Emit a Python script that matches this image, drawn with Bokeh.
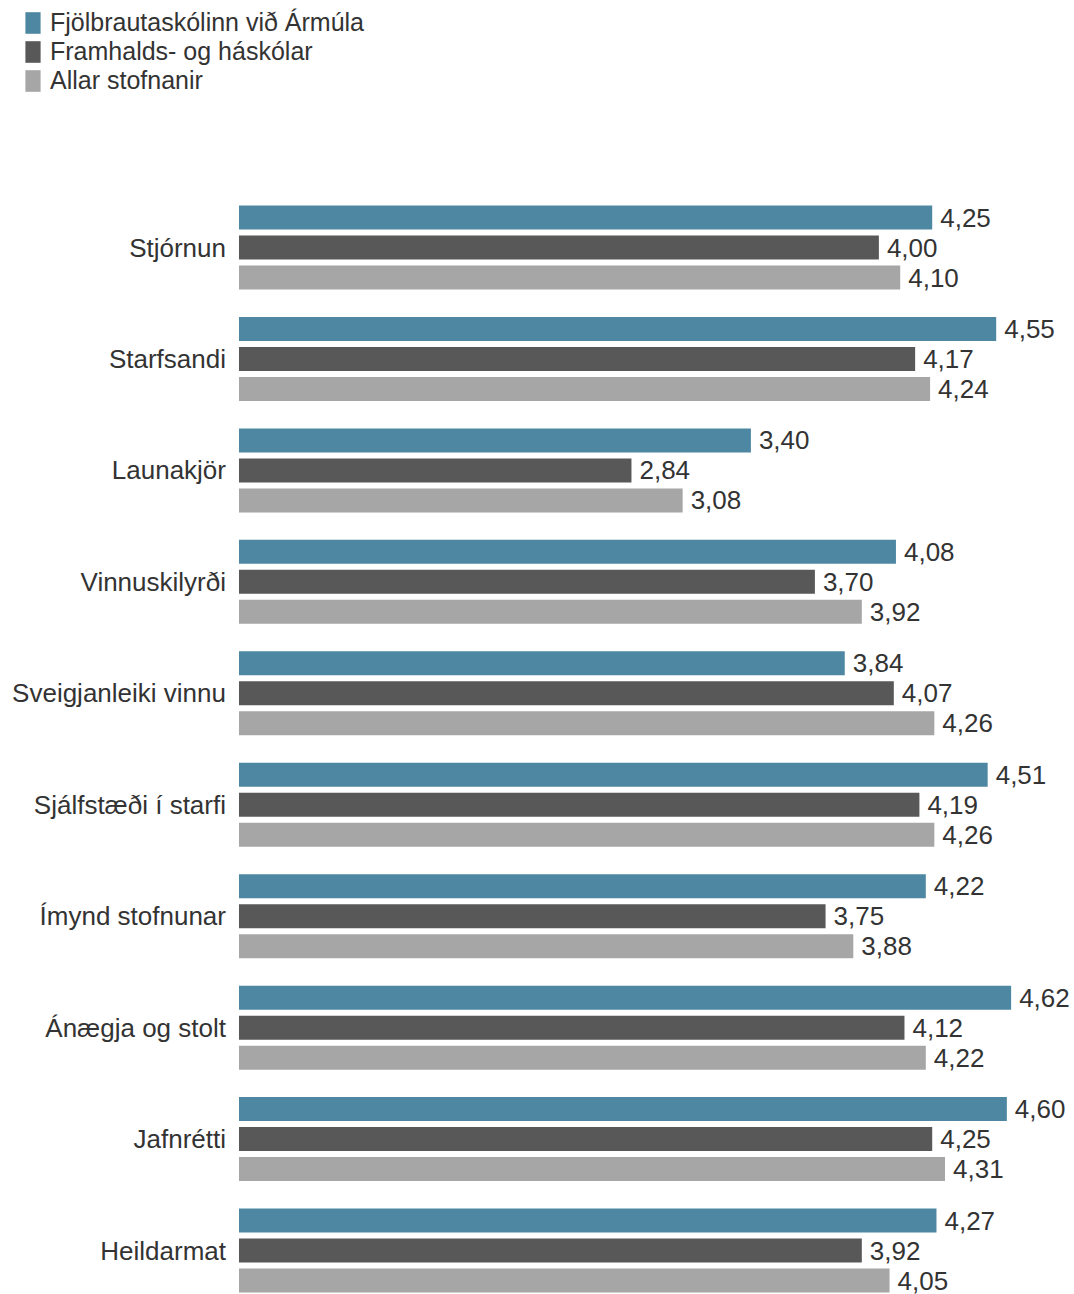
from bokeh.plotting import figure
from bokeh.models import ColumnDataSource, Range1d, Legend, LegendItem
from bokeh.core.properties import value
from bokeh.embed import file_html
from bokeh.resources import INLINE

categories = ["Stjórnun", "Starfsandi", "Launakjör", "Vinnuskilyrði",
              "Sveigjanleiki vinnu", "Sjálfstæði í starfi", "Ímynd stofnunar",
              "Ánægja og stolt", "Jafnrétti", "Heildarmat"]
fjolbraut = [4.25, 4.55, 3.40, 4.08, 3.84, 4.51, 4.22, 4.62, 4.60, 4.27]
framhalds = [4.00, 4.17, 2.84, 3.70, 4.07, 4.19, 3.75, 4.12, 4.25, 3.92]
allar = [4.10, 4.24, 3.08, 3.92, 4.26, 4.26, 3.88, 4.22, 4.31, 4.05]
series_names = ["Fjölbrautaskólinn við Ármúla", "Framhalds- og háskólar", "Allar stofnanir"]
series_values = [fjolbraut, framhalds, allar]
colors = ["#4E87A1", "#585858", "#A6A6A6"]
baseline = 1.0

FONT_NAME = "Liberation Sans"
FONT = value(FONT_NAME)
FSIZE = "26px"
TXT = "#333333"

GROUP_PX = 111.45
offsets = [30 / GROUP_PX, 0.0, -30 / GROUP_PX]
bar_h = 24 / GROUP_PX

W, H = 1074, 1294
p = figure(width=W, height=H,
           x_range=Range1d(-0.1181, 4.9171),
           y_range=Range1d(-9.3944, 2.2163),
           output_backend="svg", toolbar_location=None,
           x_axis_location=None, y_axis_location=None, min_border=0)
p.grid.visible = False
p.outline_line_color = None
p.background_fill_color = "white"

group_y = [-i for i in range(len(categories))]

renderers = []
for name, vals, off, col in zip(series_names, series_values, offsets, colors):
    src = ColumnDataSource(dict(
        y=[g + off for g in group_y],
        right=vals,
        left=[baseline] * len(vals),
        lab=[f"{v:.2f}".replace(".", ",") for v in vals],
    ))
    r = p.hbar(y="y", left="left", right="right", height=bar_h, source=src,
               fill_color=col, line_color=None)
    renderers.append(r)
    p.text(x="right", y="y", text="lab", source=src, x_offset=8,
           text_baseline="middle", text_align="left", text_font=FONT,
           text_font_size=FSIZE, text_color=TXT)

csrc = ColumnDataSource(dict(x=[baseline] * len(categories), y=group_y, t=categories))
p.text(x="x", y="y", text="t", source=csrc, x_offset=-13, text_align="right",
       text_baseline="middle", text_font=FONT, text_font_size=FSIZE, text_color=TXT)

legend = Legend(items=[LegendItem(label=n, renderers=[r]) for n, r in zip(series_names, renderers)],
                location=(23, H - 7.5 - 87), glyph_width=19, glyph_height=27,
                label_height=29, spacing=0, padding=0, margin=0, label_standoff=8,
                label_text_font=FONT_NAME, label_text_font_size="25px", label_text_color=TXT,
                background_fill_alpha=0, border_line_color=None)
p.add_layout(legend)

open("out.html", "w").write(file_html(p, INLINE))
